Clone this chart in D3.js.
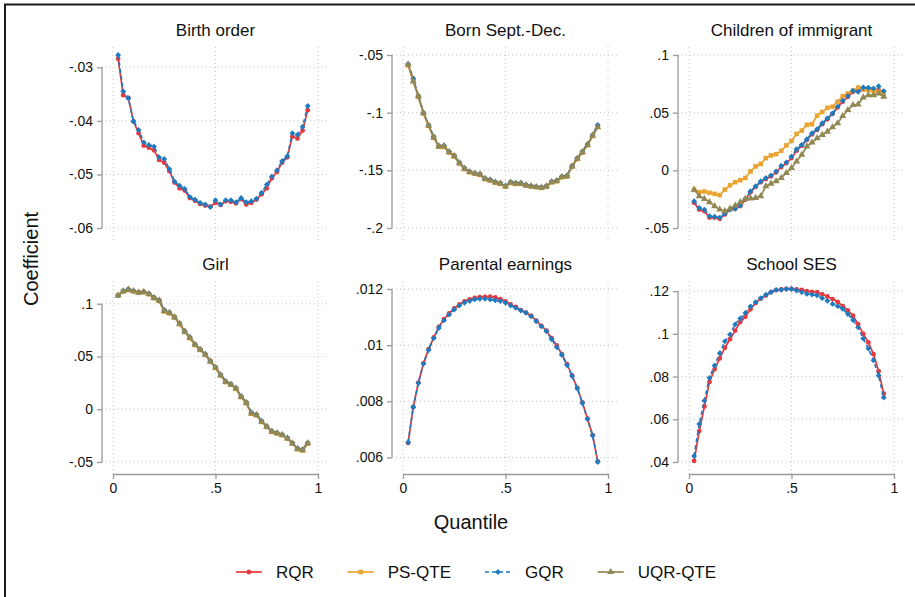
<!DOCTYPE html>
<html>
<head>
<meta charset="utf-8">
<script src="https://cdn.jsdelivr.net/npm/d3@7"></script>
<style>
    body { margin: 0; background: #fff; }
    svg { display: block; font-family: "Liberation Sans", Arial, Helvetica, sans-serif; }
</style>
</head>
<body>
<div id="chart"></div>
<script>

// quantiles at which every model was estimated
var quantiles = [0.025, 0.05, 0.075, 0.1, 0.125, 0.15, 0.175, 0.2, 0.225, 0.25,
    0.275, 0.3, 0.325, 0.35, 0.375, 0.4, 0.425, 0.45, 0.475, 0.5,
    0.525, 0.55, 0.575, 0.6, 0.625, 0.65, 0.675, 0.7, 0.725, 0.75,
    0.775, 0.8, 0.825, 0.85, 0.875, 0.9, 0.925, 0.95];

var seriesNames = ["RQR", "PS-QTE", "GQR", "UQR-QTE"];
var seriesColors = ["#e8383b", "#e9a331", "#1f7bbf", "#928853"];

var xTicks = [0, 0.5, 1];
var xTickLabels = ["0", ".5", "1"];

// Birth order
var birthRQR = [-0.0284, -0.0352, -0.0357, -0.0401, -0.0423, -0.0446, -0.0450, -0.0455, -0.0473, -0.0478,
    -0.0494, -0.0515, -0.0526, -0.0530, -0.0544, -0.0549, -0.0555, -0.0558, -0.0560, -0.0553,
    -0.0557, -0.0550, -0.0551, -0.0554, -0.0546, -0.0556, -0.0553, -0.0547, -0.0537, -0.0526,
    -0.0507, -0.0495, -0.0478, -0.0468, -0.0429, -0.0433, -0.0418, -0.0380];
var birthGQR = [-0.0277, -0.0345, -0.0358, -0.0401, -0.0417, -0.0440, -0.0445, -0.0448, -0.0468, -0.0471,
    -0.0490, -0.0513, -0.0521, -0.0527, -0.0542, -0.0547, -0.0553, -0.0556, -0.0561, -0.0548,
    -0.0556, -0.0548, -0.0548, -0.0552, -0.0544, -0.0552, -0.0550, -0.0545, -0.0534, -0.0519,
    -0.0504, -0.0492, -0.0475, -0.0466, -0.0423, -0.0426, -0.0411, -0.0372];
var birthTicks = [-0.06, -0.05, -0.04, -0.03];
var birthTickLabels = ["-.06", "-.05", "-.04", "-.03"];

// Born Sept.-Dec.
var bornRQR = [-0.0585, -0.0715, -0.0860, -0.1005, -0.1110, -0.1212, -0.1290, -0.1292, -0.1340, -0.1375,
    -0.1436, -0.1484, -0.1513, -0.1527, -0.1534, -0.1572, -0.1584, -0.1603, -0.1614, -0.1638,
    -0.1605, -0.1614, -0.1613, -0.1628, -0.1637, -0.1643, -0.1648, -0.1638, -0.1600, -0.1591,
    -0.1556, -0.1549, -0.1464, -0.1398, -0.1341, -0.1279, -0.1198, -0.1115];
var bornPS = [-0.0590, -0.0720, -0.0862, -0.1008, -0.1115, -0.1218, -0.1296, -0.1298, -0.1345, -0.1380,
    -0.1440, -0.1490, -0.1517, -0.1530, -0.1540, -0.1576, -0.1588, -0.1607, -0.1618, -0.1640,
    -0.1610, -0.1618, -0.1617, -0.1632, -0.1640, -0.1646, -0.1652, -0.1642, -0.1604, -0.1595,
    -0.1560, -0.1553, -0.1468, -0.1402, -0.1345, -0.1282, -0.1202, -0.1122];
var bornGQR = [-0.0578, -0.0702, -0.0855, -0.1000, -0.1106, -0.1207, -0.1288, -0.1285, -0.1337, -0.1371,
    -0.1432, -0.1480, -0.1510, -0.1523, -0.1530, -0.1568, -0.1580, -0.1600, -0.1610, -0.1634,
    -0.1600, -0.1610, -0.1610, -0.1625, -0.1634, -0.1640, -0.1645, -0.1634, -0.1596, -0.1588,
    -0.1553, -0.1545, -0.1460, -0.1394, -0.1337, -0.1274, -0.1193, -0.1106];
var bornUQR = [-0.0582, -0.0730, -0.0858, -0.1003, -0.1112, -0.1214, -0.1292, -0.1290, -0.1342, -0.1377,
    -0.1438, -0.1486, -0.1515, -0.1528, -0.1536, -0.1574, -0.1586, -0.1605, -0.1616, -0.1640,
    -0.1606, -0.1616, -0.1615, -0.1630, -0.1638, -0.1645, -0.1650, -0.1640, -0.1602, -0.1593,
    -0.1558, -0.1550, -0.1466, -0.1400, -0.1343, -0.1280, -0.1200, -0.1126];
var bornTicks = [-0.2, -0.15, -0.1, -0.05];
var bornTickLabels = ["-.2", "-.15", "-.1", "-.05"];

// Children of immigrant
var immRQR = [-0.0282, -0.0340, -0.0354, -0.0410, -0.0410, -0.0420, -0.0382, -0.0340, -0.0333, -0.0310,
    -0.0253, -0.0190, -0.0144, -0.0103, -0.0075, -0.0052, -0.0017, 0.0029, 0.0063, 0.0106,
    0.0170, 0.0213, 0.0264, 0.0313, 0.0350, 0.0400, 0.0443, 0.0489, 0.0546, 0.0595,
    0.0638, 0.0681, 0.0687, 0.0701, 0.0704, 0.0701, 0.0695, 0.0681];
var immPS = [-0.0170, -0.0190, -0.0184, -0.0195, -0.0204, -0.0215, -0.0167, -0.0130, -0.0103, -0.0086,
    -0.0066, -0.0009, 0.0034, 0.0055, 0.0106, 0.0129, 0.0140, 0.0170, 0.0216, 0.0256,
    0.0316, 0.0345, 0.0394, 0.0400, 0.0474, 0.0506, 0.0543, 0.0552, 0.0595, 0.0644,
    0.0667, 0.0690, 0.0718, 0.0704, 0.0695, 0.0690, 0.0681, 0.0660];
var immGQR = [-0.0267, -0.0325, -0.0340, -0.0397, -0.0402, -0.0410, -0.0374, -0.0340, -0.0333, -0.0305,
    -0.0247, -0.0181, -0.0138, -0.0095, -0.0066, -0.0043, -0.0009, 0.0040, 0.0069, 0.0120,
    0.0184, 0.0221, 0.0270, 0.0322, 0.0356, 0.0408, 0.0451, 0.0494, 0.0552, 0.0603,
    0.0644, 0.0690, 0.0681, 0.0718, 0.0716, 0.0710, 0.0730, 0.0687];
var immUQR = [-0.0167, -0.0224, -0.0247, -0.0276, -0.0310, -0.0340, -0.0354, -0.0333, -0.0305, -0.0276,
    -0.0247, -0.0244, -0.0239, -0.0224, -0.0138, -0.0115, -0.0095, -0.0066, -0.0023, 0.0020,
    0.0078, 0.0135, 0.0207, 0.0241, 0.0279, 0.0307, 0.0336, 0.0374, 0.0408, 0.0471,
    0.0523, 0.0566, 0.0572, 0.0632, 0.0652, 0.0652, 0.0667, 0.0638];
var immTicks = [-0.05, 0, 0.05, 0.1];
var immTickLabels = ["-.05", "0", ".05", ".1"];

// Girl
var girlRQR = [0.1079, 0.1120, 0.1135, 0.1120, 0.1107, 0.1113, 0.1094, 0.1057, 0.1031, 0.0937,
    0.0915, 0.0874, 0.0811, 0.0739, 0.0679, 0.0613, 0.0566, 0.0519, 0.0456, 0.0396,
    0.0324, 0.0261, 0.0236, 0.0198, 0.0119, 0.0063, -0.0038, -0.0053, -0.0116, -0.0164,
    -0.0211, -0.0226, -0.0242, -0.0274, -0.0321, -0.0374, -0.0384, -0.0321];
var girlPS = [0.1082, 0.1118, 0.1130, 0.1118, 0.1105, 0.1110, 0.1090, 0.1052, 0.1027, 0.0925,
    0.0910, 0.0870, 0.0806, 0.0733, 0.0674, 0.0608, 0.0562, 0.0515, 0.0452, 0.0392,
    0.0320, 0.0257, 0.0232, 0.0194, 0.0115, 0.0058, -0.0042, -0.0058, -0.0120, -0.0168,
    -0.0214, -0.0230, -0.0246, -0.0278, -0.0325, -0.0380, -0.0392, -0.0324];
var girlGQR = [0.1080, 0.1123, 0.1140, 0.1124, 0.1110, 0.1115, 0.1097, 0.1060, 0.1034, 0.0942,
    0.0918, 0.0877, 0.0815, 0.0743, 0.0683, 0.0617, 0.0570, 0.0523, 0.0460, 0.0400,
    0.0328, 0.0265, 0.0240, 0.0202, 0.0123, 0.0067, -0.0030, -0.0050, -0.0112, -0.0160,
    -0.0208, -0.0222, -0.0238, -0.0270, -0.0318, -0.0370, -0.0381, -0.0318];
var girlUQR = [0.1078, 0.1119, 0.1133, 0.1119, 0.1106, 0.1111, 0.1092, 0.1055, 0.1029, 0.0932,
    0.0913, 0.0872, 0.0809, 0.0736, 0.0677, 0.0611, 0.0564, 0.0517, 0.0454, 0.0394,
    0.0322, 0.0259, 0.0234, 0.0196, 0.0117, 0.0061, -0.0040, -0.0055, -0.0118, -0.0166,
    -0.0212, -0.0228, -0.0244, -0.0276, -0.0323, -0.0377, -0.0387, -0.0322];
var girlTicks = [-0.05, 0, 0.05, 0.1];
var girlTickLabels = ["-.05", "0", ".05", ".1"];

// Parental earnings
var earnRQR = [0.00652, 0.00780, 0.00867, 0.00936, 0.00986, 0.01028, 0.01065, 0.01093, 0.01113, 0.01131,
    0.01145, 0.01156, 0.01163, 0.01168, 0.01171, 0.01172, 0.01173, 0.01170, 0.01164, 0.01156,
    0.01145, 0.01136, 0.01125, 0.01116, 0.01104, 0.01087, 0.01069, 0.01052, 0.01025, 0.00999,
    0.00968, 0.00932, 0.00892, 0.00848, 0.00796, 0.00738, 0.00680, 0.00586];
var earnGQR = [0.00654, 0.00779, 0.00865, 0.00934, 0.00983, 0.01025, 0.01061, 0.01088, 0.01109, 0.01127,
    0.01141, 0.01151, 0.01157, 0.01163, 0.01165, 0.01165, 0.01163, 0.01160, 0.01157, 0.01151,
    0.01141, 0.01133, 0.01123, 0.01115, 0.01103, 0.01085, 0.01067, 0.01049, 0.01021, 0.00993,
    0.00965, 0.00929, 0.00890, 0.00846, 0.00794, 0.00737, 0.00678, 0.00584];
var earnTicks = [0.006, 0.008, 0.01, 0.012];
var earnTickLabels = [".006", ".008", ".01", ".012"];

// School SES
var sesRQR = [0.0405, 0.0545, 0.0660, 0.0775, 0.0835, 0.0885, 0.0935, 0.0975, 0.1015, 0.1055,
    0.1080, 0.1115, 0.1145, 0.1165, 0.1180, 0.1195, 0.1205, 0.1208, 0.1210, 0.1210,
    0.1208, 0.1206, 0.1200, 0.1196, 0.1195, 0.1185, 0.1175, 0.1163, 0.1150, 0.1130,
    0.1110, 0.1085, 0.1045, 0.1000, 0.0960, 0.0905, 0.0825, 0.0720];
var sesGQR = [0.0428, 0.0578, 0.0687, 0.0794, 0.0852, 0.0909, 0.0965, 0.0997, 0.1044, 0.1072,
    0.1098, 0.1128, 0.1148, 0.1167, 0.1183, 0.1195, 0.1206, 0.1206, 0.1210, 0.1210,
    0.1203, 0.1195, 0.1187, 0.1184, 0.1180, 0.1167, 0.1155, 0.1140, 0.1130, 0.1117,
    0.1093, 0.1065, 0.1030, 0.0978, 0.0931, 0.0876, 0.0805, 0.0702];
var sesTicks = [0.04, 0.06, 0.08, 0.1, 0.12];
var sesTickLabels = [".04", ".06", ".08", ".1", ".12"];

// panels in reading order; series missing from a panel are left null
var panels = [
    {title: "Birth order", ticks: birthTicks, labels: birthTickLabels, series: [birthRQR, null, birthGQR, null]},
    {title: "Born Sept.-Dec.", ticks: bornTicks, labels: bornTickLabels, series: [bornRQR, bornPS, bornGQR, bornUQR]},
    {title: "Children of immigrant", ticks: immTicks, labels: immTickLabels, series: [immRQR, immPS, immGQR, immUQR]},
    {title: "Girl", ticks: girlTicks, labels: girlTickLabels, series: [girlRQR, girlPS, girlGQR, girlUQR]},
    {title: "Parental earnings", ticks: earnTicks, labels: earnTickLabels, series: [earnRQR, null, earnGQR, null]},
    {title: "School SES", ticks: sesTicks, labels: sesTickLabels, series: [sesRQR, null, sesGQR, null]}
];

var width = 915, height = 597;
var colLeft = [113, 403, 689];
var rowTop = [55, 289];
var plotW = 205, plotH = 173;
var gridColor = "#c4c4c4", axisColor = "#9a9a9a";

var svg = d3.select("#chart").append("svg")
    .attr("width", width)
    .attr("height", height);

svg.append("rect").attr("width", width).attr("height", height).attr("fill", "#fff");

// outer frame (only top and left edges fall inside the picture)
svg.append("path")
    .attr("d", "M5,597V4.5H915")
    .attr("fill", "none")
    .attr("stroke", "#1a1a1a")
    .attr("stroke-width", 2);

/**
 * Returns the marker shape for series number k.
 */
function markerPath(k) {
    if (k == 0) return d3.symbol().type(d3.symbolCircle).size(18)();
    if (k == 1) return d3.symbol().type(d3.symbolSquare).size(21)();
    if (k == 2) return d3.symbol().type(d3.symbolSquare).size(17)();
    return d3.symbol().type(d3.symbolTriangle).size(22)();
}

function markerTransform(k, px, py) {
    var t = "translate(" + px + "," + py + ")";
    if (k == 2) t += " rotate(45)";
    return t;
}

panels.forEach(function (p, i) {
    var col = i % 3, row = Math.floor(i / 3);
    var x0 = colLeft[col], y0 = rowTop[row];
    var axisX = x0 - 11;

    var x = d3.scaleLinear().domain([0, 1]).range([x0, x0 + plotW]);
    var all = p.ticks.slice();
    p.series.forEach(function (s) { if (s) all = all.concat(s); });
    var y = d3.scaleLinear().domain(d3.extent(all)).range([y0 + plotH, y0]);

    var g = svg.append("g");

    // dotted grid
    g.append("g").selectAll("line").data(p.ticks).join("line")
        .attr("x1", axisX).attr("x2", x0 + plotW + 12)
        .attr("y1", function (d) { return y(d); })
        .attr("y2", function (d) { return y(d); })
        .attr("stroke", gridColor).attr("stroke-width", 1)
        .attr("stroke-dasharray", "1,3");
    g.append("g").selectAll("line").data(xTicks).join("line")
        .attr("x1", function (d) { return x(d); })
        .attr("x2", function (d) { return x(d); })
        .attr("y1", y0 - 8).attr("y2", y0 + plotH + 12)
        .attr("stroke", gridColor).attr("stroke-width", 1)
        .attr("stroke-dasharray", "1,3");

    // y axis, line only between first and last tick
    var yAxis = d3.axisLeft(y)
        .tickValues(p.ticks)
        .tickFormat(function (d, j) { return p.labels[j]; })
        .tickSize(5).tickSizeOuter(0).tickPadding(4);
    var ya = g.append("g").attr("transform", "translate(" + axisX + ",0)").call(yAxis);
    ya.select(".domain")
        .attr("d", "M0," + y(d3.min(p.ticks)) + "V" + y(d3.max(p.ticks)))
        .attr("stroke", axisColor).attr("stroke-width", 1.3);
    ya.selectAll(".tick line").attr("stroke", axisColor).attr("stroke-width", 1.3);
    ya.selectAll(".tick text").attr("fill", "#111")
        .style("font-size", "14px").style("font-family", "inherit");

    // x axis only on the bottom row
    if (row == 1) {
        var xAxis = d3.axisBottom(x)
            .tickValues(xTicks)
            .tickFormat(function (d, j) { return xTickLabels[j]; })
            .tickSize(5).tickSizeOuter(0).tickPadding(4);
        var xa = g.append("g").attr("transform", "translate(0," + (y0 + plotH + 12) + ")").call(xAxis);
        xa.select(".domain").attr("stroke", axisColor).attr("stroke-width", 1.3);
        xa.selectAll(".tick line").attr("stroke", axisColor).attr("stroke-width", 1.3);
        xa.selectAll(".tick text").attr("fill", "#111")
            .style("font-size", "14px").style("font-family", "inherit");
    }

    // panel title
    g.append("text")
        .attr("x", x0 + plotW / 2)
        .attr("y", y0 - 19)
        .attr("text-anchor", "middle")
        .attr("fill", "#111")
        .style("font-size", "17px")
        .text(p.title);

    var line = d3.line()
        .x(function (d, j) { return x(quantiles[j]); })
        .y(function (d) { return y(d); });

    p.series.forEach(function (s, k) {
        if (!s) return;
        var sg = g.append("g");
        sg.append("path")
            .datum(s)
            .attr("d", line)
            .attr("fill", "none")
            .attr("stroke", seriesColors[k])
            .attr("stroke-width", 1.7)
            .attr("stroke-dasharray", k == 2 ? "4,3" : null);
        sg.selectAll("path.mk").data(s).join("path")
            .attr("class", "mk")
            .attr("d", markerPath(k))
            .attr("transform", function (d, j) { return markerTransform(k, x(quantiles[j]), y(d)); })
            .attr("fill", seriesColors[k]);
    });
});

// axis titles
svg.append("text")
    .attr("transform", "translate(38,259) rotate(-90)")
    .attr("text-anchor", "middle")
    .attr("fill", "#111")
    .style("font-size", "20px")
    .text("Coefficient");

svg.append("text")
    .attr("x", 471)
    .attr("y", 529)
    .attr("text-anchor", "middle")
    .attr("fill", "#111")
    .style("font-size", "20px")
    .text("Quantile");

// legend
var legend = svg.append("g");
var cursor = 0;
seriesNames.forEach(function (name, k) {
    var item = legend.append("g").attr("transform", "translate(" + cursor + ",0)");
    item.append("line")
        .attr("x1", 0).attr("x2", 26).attr("y1", 0).attr("y2", 0)
        .attr("stroke", seriesColors[k]).attr("stroke-width", 1.7)
        .attr("stroke-dasharray", k == 2 ? "4,3" : null);
    item.append("path")
        .attr("d", markerPath(k))
        .attr("transform", markerTransform(k, 13, 0))
        .attr("fill", seriesColors[k]);
    var t = item.append("text")
        .attr("x", 40).attr("y", 6)
        .attr("fill", "#111")
        .style("font-size", "17px")
        .text(name);
    cursor += 40 + t.node().getComputedTextLength() + 34;
});
var legendWidth = cursor - 34;
legend.attr("transform", "translate(" + (476 - legendWidth / 2) + ",572)");

</script>
</body>
</html>
